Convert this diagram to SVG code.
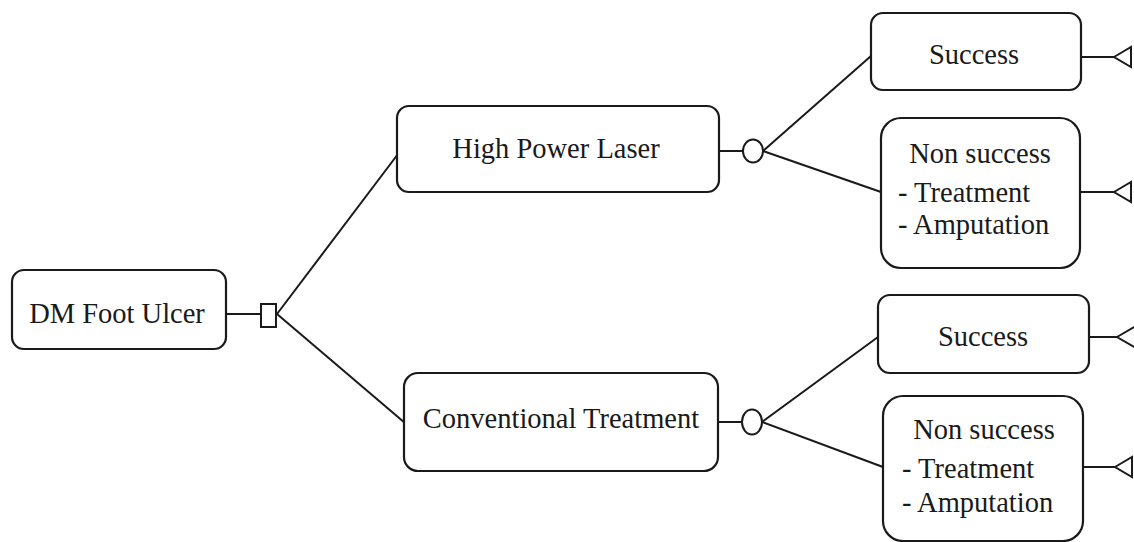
<svg xmlns="http://www.w3.org/2000/svg" width="1134" height="542" viewBox="0 0 1134 542">
<style>
.box{fill:#fff;stroke:#1a1a1a;stroke-width:2.2}
.ln{fill:none;stroke:#1a1a1a;stroke-width:2}
.sym{fill:#fff;stroke:#1a1a1a;stroke-width:2}
text{font-family:"Liberation Serif","Times New Roman",serif;font-size:28.5px;fill:#1a1a1a}
.c{text-anchor:middle}
</style>
<rect width="1134" height="542" fill="#fff"/>
<g id="connectors">
<line class="ln" x1="226" y1="314" x2="261" y2="314"/>
<line class="ln" x1="277" y1="314" x2="398" y2="154"/>
<line class="ln" x1="277" y1="314" x2="405" y2="423"/>
<line class="ln" x1="719" y1="151" x2="743" y2="151"/>
<line class="ln" x1="763" y1="151" x2="871" y2="56"/>
<line class="ln" x1="763" y1="151" x2="881" y2="192"/>
<line class="ln" x1="718" y1="422" x2="743" y2="422"/>
<line class="ln" x1="762" y1="422" x2="878" y2="337"/>
<line class="ln" x1="762" y1="422" x2="883" y2="467"/>
<line class="ln" x1="1081" y1="57" x2="1114" y2="57"/>
<line class="ln" x1="1080" y1="192" x2="1114" y2="192"/>
<line class="ln" x1="1089" y1="337" x2="1117" y2="337"/>
<line class="ln" x1="1083" y1="467" x2="1115" y2="467"/>
</g>
<g id="decision">
<rect class="sym" x="261" y="304" width="15" height="23"/>
</g>
<g id="chance1">
<ellipse class="sym" cx="753" cy="151" rx="10" ry="11.5"/>
</g>
<g id="chance2">
<ellipse class="sym" cx="752" cy="422" rx="10" ry="12.5"/>
</g>
<g id="terminals">
<polygon class="sym" points="1114,57 1131,47 1131,67"/>
<polygon class="sym" points="1114,192 1131,182 1131,202"/>
<polygon class="sym" points="1117,337 1136,326 1136,348"/>
<polygon class="sym" points="1115,467 1132,457 1132,477"/>
</g>
<g id="dm-foot-ulcer">
<rect class="box" x="12" y="270" width="214" height="79" rx="12"/>
<text class="c" x="117" y="323">DM Foot Ulcer</text>
</g>
<g id="high-power-laser">
<rect class="box" x="397" y="106" width="322" height="86" rx="12"/>
<text class="c" x="556" y="158">High Power Laser</text>
</g>
<g id="conventional-treatment">
<rect class="box" x="404" y="373" width="314" height="98" rx="14"/>
<text class="c" x="561" y="428">Conventional Treatment</text>
</g>
<g id="success1">
<rect class="box" x="871" y="13" width="210" height="77" rx="12"/>
<text class="c" x="974" y="64">Success</text>
</g>
<g id="nonsuccess1">
<rect class="box" x="881" y="118" width="199" height="150" rx="20"/>
<text class="c" x="980" y="163">Non success</text>
<text x="898" y="202">- Treatment</text>
<text x="898" y="234">- Amputation</text>
</g>
<g id="success2">
<rect class="box" x="878" y="295" width="211" height="78" rx="12"/>
<text class="c" x="983" y="346">Success</text>
</g>
<g id="nonsuccess2">
<rect class="box" x="883" y="396" width="200" height="145" rx="20"/>
<text class="c" x="984" y="439">Non success</text>
<text x="902" y="478">- Treatment</text>
<text x="902" y="512">- Amputation</text>
</g>
</svg>
